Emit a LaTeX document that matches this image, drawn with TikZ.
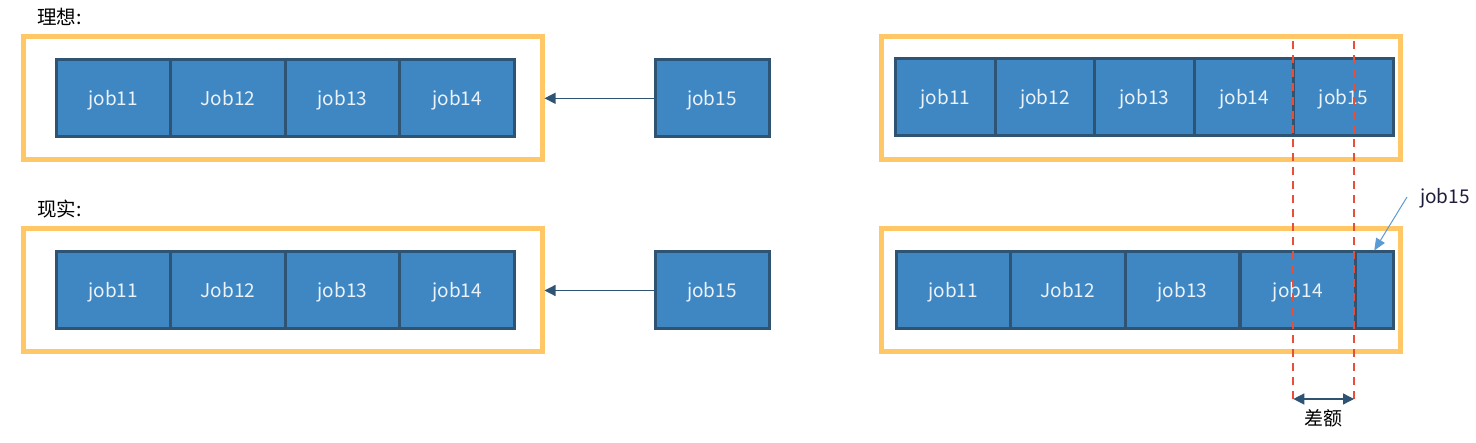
\documentclass[tikz,border=0pt]{standalone}
\usepackage{fontspec}
\setmainfont{Noto Sans CJK SC}
\usetikzlibrary{arrows.meta}
\definecolor{jobfill}{RGB}{62,135,195}
\definecolor{jobline}{RGB}{47,83,115}
\definecolor{framecol}{RGB}{255,199,102}
\definecolor{reddash}{RGB}{232,78,56}
\definecolor{calloutcol}{RGB}{91,155,213}
\definecolor{textw}{RGB}{236,242,250}
\definecolor{calltext}{RGB}{30,30,60}
\begin{document}
\begin{tikzpicture}[x=1pt,y=-1pt,
  jobbox/.style={draw=jobline, line width=3pt, fill=jobfill, text=textw,
    font=\fontsize{19}{21}\selectfont, inner sep=0pt, minimum height=77pt,
    text height=15pt, text depth=0pt},
  framebox/.style={draw=framecol, line width=5pt, inner sep=0pt, minimum width=519pt, minimum height=123pt},
  lbl/.style={font=\fontsize{19.5}{21}\selectfont, inner sep=0pt, anchor=west},
  pusharrow/.style={draw=jobline, line width=1.3pt, -{Triangle[length=11pt,width=11pt]}},
  diffline/.style={draw=reddash, line width=2.3pt, dash pattern=on 8.5pt off 5.5pt},
  dimarrow/.style={draw=jobline, line width=1.3pt, {Triangle[length=11pt,width=11pt]}-{Triangle[length=11pt,width=11pt]}},
  callarrow/.style={draw=calloutcol, line width=1pt, -{Triangle[length=12pt,width=10pt]}}
]
\useasboundingbox (0,0) rectangle (1476,443);

% labels
\node[lbl] (l1) at (37,17) {理想:};
\node[lbl] (l2) at (37,209) {现实:};

% frames
\node[framebox] (f1) at (282.5,98.3) {};
\node[framebox] (f2) at (282.5,290.5) {};
\node[framebox] (f3) at (1141,98.3) {};
\node[framebox] (f4) at (1141,290.5) {};

% top-left row
\node[jobbox, minimum width=114.6pt] (a11) at (113.3,98.3) {job11};
\node[jobbox, minimum width=114.6pt] (a12) at (227.9,98.3) {Job12};
\node[jobbox, minimum width=114.6pt] (a13) at (342.5,98.3) {job13};
\node[jobbox, minimum width=114.6pt] (a14) at (457.1,98.3) {job14};
\node[jobbox, minimum width=114pt] (a15) at (712,98.3) {job15};
\draw[pusharrow] (a15.west) -- (f1.east);

% bottom-left row
\node[jobbox, minimum width=114.6pt] (b11) at (113.3,290.5) {job11};
\node[jobbox, minimum width=114.6pt] (b12) at (227.9,290.5) {Job12};
\node[jobbox, minimum width=114.6pt] (b13) at (342.5,290.5) {job13};
\node[jobbox, minimum width=114.6pt] (b14) at (457.1,290.5) {job14};
\node[jobbox, minimum width=114pt] (b15) at (712,290.5) {job15};
\draw[pusharrow] (b15.west) -- (f2.east);

% top-right row
\node[jobbox, minimum width=99.6pt] (c11) at (945.3,97.5) {job11};
\node[jobbox, minimum width=99.6pt] (c12) at (1044.9,97.5) {job12};
\node[jobbox, minimum width=99.6pt] (c13) at (1144.5,97.5) {job13};
\node[jobbox, minimum width=99.6pt] (c14) at (1244.1,97.5) {job14};
\node[jobbox, minimum width=99.6pt] (c15) at (1343.7,97.5) {job15};

% bottom-right row
\node[jobbox, minimum width=114.5pt] (d11) at (953.25,290.5) {job11};
\node[jobbox, minimum width=114.5pt] (d12) at (1067.75,290.5) {Job12};
\node[jobbox, minimum width=114.5pt] (d13) at (1182.5,290.5) {job13};
\node[jobbox, minimum width=115.5pt] (d14) at (1297.75,290.5) {job14};
\node[jobbox, minimum width=38.5pt] (d15) at (1374.25,290.5) {};

% callout
\node[lbl, text=calltext, font=\fontsize{19}{21}\selectfont] (ct) at (1420,198) {job15};
\coordinate (cs) at (1407,197);
\draw[callarrow] (cs) -- (d15.north);

% difference lines
\coordinate (r1t) at (1293.3,41);
\coordinate (r1b) at (1293.3,400);
\coordinate (r2t) at (1354,41);
\coordinate (r2b) at (1354,400);
\draw[diffline] (r1t) -- (r1b);
\draw[diffline] (r2t) -- (r2b);
\coordinate (da) at (1293.3,399);
\coordinate (db) at (1354,399);
\draw[dimarrow] (da) -- (db);
\node[font=\fontsize{19}{21}\selectfont, inner sep=0pt] (diff) at (1323.7,418.5) {差额};
\end{tikzpicture}
\end{document}
